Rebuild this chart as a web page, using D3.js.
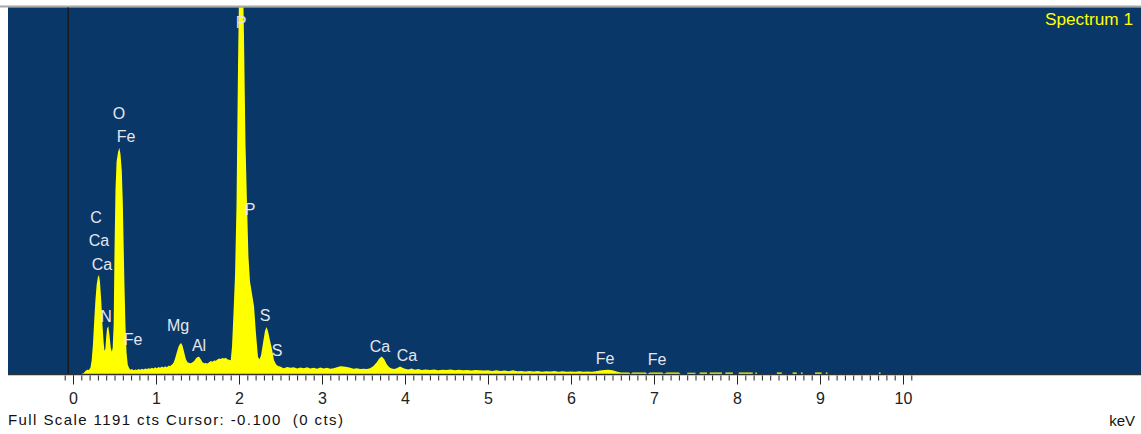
<!DOCTYPE html>
<html><head><meta charset="utf-8">
<script src="https://cdn.jsdelivr.net/npm/d3@7"></script>
<style>
html,body{margin:0;padding:0;background:#fff;}
svg{display:block;}
</style></head>
<body>
<svg id="chart" width="1141" height="434"></svg>
<script>
// ---- data ----
const fullScaleCounts = 1191;
const cursorKeV = -0.1;
const spectrumName = "Spectrum 1";
const axisUnit = "keV";
const majorTickValues = [0,1,2,3,4,5,6,7,8,9,10];
const statusText = "Full Scale 1191 cts Cursor: -0.100  (0 cts)";

// [keV, counts]
const spectrum = [
 [-0.1,0],[0.10,0],[0.13,3],[0.15,10],[0.17,14],[0.19,13],[0.21,20],[0.225,45],[0.24,95],[0.255,170],
 [0.27,240],[0.285,290],[0.30,315],[0.313,322],[0.325,300],[0.34,240],[0.355,160],[0.37,100],[0.38,75],
 [0.39,82],[0.40,120],[0.41,148],[0.425,155],[0.44,125],[0.455,85],[0.468,72],[0.478,85],[0.49,160],
 [0.50,400],[0.512,600],[0.525,690],[0.542,720],[0.558,735],[0.572,715],[0.588,660],[0.60,560],[0.61,420],
 [0.62,290],[0.632,160],[0.645,70],[0.66,30],[0.675,20],
 [0.69,14],[0.71,16],[0.73,12],[0.75,15],[0.77,13],[0.79,16],[0.81,14],[0.83,17],[0.85,15],[0.87,18],
 [0.89,16],[0.91,19],[0.93,17],[0.95,20],[0.97,18],[0.99,22],[1.01,19],[1.03,23],[1.05,20],[1.07,24],
 [1.09,21],[1.11,25],[1.13,22],[1.15,27],[1.17,26],[1.19,30],[1.21,36],[1.23,50],[1.25,70],[1.27,88],
 [1.29,98],[1.305,100],[1.32,92],[1.34,70],[1.36,48],[1.38,38],[1.40,36],[1.42,35],[1.44,38],[1.46,42],
 [1.48,50],[1.50,55],[1.52,56],[1.54,48],[1.56,38],[1.58,35],[1.60,36],[1.62,34],[1.64,38],[1.66,42],
 [1.68,40],[1.70,44],[1.72,43],[1.74,47],[1.76,50],[1.78,49],[1.80,52],[1.82,50],[1.84,53],[1.86,48],
 [1.88,46],[1.90,45],
 [1.916,90],[1.934,200],[1.952,320],[1.970,550],[1.988,1000],[2.006,1350],[2.024,1450],[2.042,1380],
 [2.060,1100],[2.078,750],[2.096,560],[2.114,380],[2.133,300],[2.157,260],[2.181,220],[2.205,130],
 [2.229,55],[2.247,48],[2.265,60],[2.289,100],[2.313,140],[2.331,153],[2.349,140],[2.373,110],[2.398,80],
 [2.422,45],[2.446,32],[2.470,26],[2.494,24],
 [2.54,19],[2.58,23],[2.62,20],[2.66,22],[2.70,18],[2.74,21],[2.78,19],[2.82,22],[2.86,18],[2.90,20],
 [2.94,17],[2.98,21],[3.02,18],[3.06,20],[3.10,17],[3.14,19],[3.18,22],[3.22,25],[3.26,24],[3.30,23],
 [3.34,20],[3.38,17],[3.42,19],[3.46,16],[3.50,17],[3.54,16],[3.58,19],[3.62,26],[3.66,38],[3.69,50],
 [3.72,57],[3.75,48],[3.78,32],[3.81,22],[3.84,18],[3.87,16],[3.90,19],[3.94,24],[3.97,20],[4.00,17],
 [4.04,15],[4.08,18],[4.12,14],[4.16,16],[4.20,13],[4.25,15],[4.30,13],[4.35,15],[4.40,12],[4.45,14],
 [4.50,13],[4.55,15],[4.60,12],[4.65,14],[4.70,12],[4.75,13],[4.80,11],[4.85,13],[4.90,12],[4.95,11],
 [5.00,12],[5.05,10],[5.10,12],[5.15,10],[5.20,11],[5.25,9],[5.30,12],[5.35,9],[5.40,10],[5.45,8],
 [5.50,10],[5.55,8],[5.60,10],[5.65,7],[5.70,9],[5.75,8],[5.80,10],[5.85,7],[5.90,9],[5.95,7],[6.00,8],
 [6.05,7],[6.10,9],[6.15,7],[6.20,8],[6.25,7],[6.30,9],[6.35,11],[6.40,13],[6.45,14],[6.50,12],[6.55,8],
 [6.60,5],[6.70,5],[6.72,0],[6.74,5],[6.90,5],[6.92,0],[6.95,5],[7.10,5],[7.12,0],[7.15,5],[7.30,5],[7.32,0],
 [7.39,0]
];
// sparse high-energy channels: [startKeV, endKeV, counts]
const sparseBlocks = [
 [7.40,7.50,4],[7.55,7.64,5],[7.67,7.82,5],[7.86,7.95,5],[8.02,8.19,5],[8.22,8.24,5],
 [8.48,8.54,5],[8.67,8.72,5],[8.77,8.79,5],[8.94,9.02,5],[9.07,9.09,5],[9.71,9.73,5]
];

// element labels: name, keV, label height (counts)
const labelNames  = ["P","O","Fe","C","Ca","Ca","N","Fe","Mg","Al","P","S","S","Ca","Ca","Fe","Fe"];
const labelKeV    = [2.024,0.554,0.639,0.277,0.313,0.349,0.398,0.723,1.265,1.518,2.133,2.313,2.458,3.699,4.024,6.410,7.036];
const labelCounts = [1143,848,773,508,434,356,188,113,159,94,534,191,78,91,61,52,49];

// ---- drawing ----
const svg = d3.select("#chart");
const plot = {left:8, right:1141, top:7.5, bottom:375};
const x = d3.scaleLinear().domain([0,10]).range([73,903]);
const y = d3.scaleLinear().domain([0,fullScaleCounts]).range([plot.bottom-1, plot.top]);

// top grey border
svg.append("rect").attr("x",0).attr("y",5.5).attr("width",1141).attr("height",2).attr("fill","#a8a8a8");
// plot background
svg.append("rect").attr("x",plot.left).attr("y",plot.top).attr("width",plot.right-plot.left)
  .attr("height",plot.bottom-plot.top).attr("fill","#093768");

svg.append("clipPath").attr("id","clip").append("rect")
  .attr("x",plot.left).attr("y",plot.top).attr("width",plot.right-plot.left).attr("height",plot.bottom-plot.top);

const pts = spectrum.slice();
sparseBlocks.forEach(b => { pts.push([b[0],0],[b[0],b[2]],[b[1],b[2]],[b[1],0]); });

const area = d3.area().x(d=>x(d[0])).y0(y(0)).y1(d=>y(d[1]));
svg.append("path").datum(pts).attr("clip-path","url(#clip)")
  .attr("d",area).attr("fill","#ffff00");

// cursor line
svg.append("line").attr("x1",x(cursorKeV)+3.5).attr("x2",x(cursorKeV)+3.5)
  .attr("y1",plot.top).attr("y2",plot.bottom).attr("stroke","#1a1a1a").attr("stroke-width",1.5);

// bottom dark edge
svg.append("line").attr("x1",plot.left).attr("x2",plot.right).attr("y1",plot.bottom-0.5).attr("y2",plot.bottom-0.5)
  .attr("stroke","#303030").attr("stroke-width",1.5);

// element labels
svg.append("g").attr("clip-path","url(#clip)").selectAll("text").data(labelNames).join("text")
  .attr("x",(d,i)=>x(labelKeV[i])).attr("y",(d,i)=>y(labelCounts[i]))
  .attr("dy","0.36em").attr("text-anchor","middle")
  .attr("font-family","Liberation Sans, Arial, sans-serif").attr("font-size",16)
  .attr("fill","#e4e6ee").text(d=>d);

// spectrum name
svg.append("text").attr("x",1045).attr("y",25).attr("textLength",88).attr("lengthAdjust","spacingAndGlyphs")
  .attr("font-family","Liberation Sans, Arial, sans-serif").attr("font-size",16)
  .attr("fill","#ffff00").text(spectrumName);

// axes
const minorVals = d3.range(-1,102).map(i=>i/10);
const minorAxis = d3.axisBottom(x).tickValues(minorVals).tickSize(5).tickFormat("");
const gMinor = svg.append("g").attr("transform",`translate(0,${plot.bottom+0.5})`).call(minorAxis);
gMinor.select(".domain").remove();
gMinor.selectAll("line").attr("stroke","#222");

const majorAxis = d3.axisBottom(x).tickValues(majorTickValues).tickSize(9).tickPadding(8).tickFormat(d3.format("d"));
const gMajor = svg.append("g").attr("transform",`translate(0,${plot.bottom+0.5})`).call(majorAxis);
gMajor.select(".domain").remove();
gMajor.selectAll("line").attr("stroke","#222");
gMajor.selectAll("text").attr("font-family","Liberation Sans, Arial, sans-serif").attr("font-size",16)
  .attr("fill","#222");

// status text and unit
svg.append("text").attr("x",8).attr("y",425).attr("textLength",335).attr("lengthAdjust","spacing")
  .attr("font-family","Liberation Sans, Arial, sans-serif").attr("font-size",15).attr("fill","#111")
  .attr("xml:space","preserve").style("white-space","pre").text(statusText);
svg.append("text").attr("x",1135).attr("y",426).attr("text-anchor","end")
  .attr("font-family","Liberation Sans, Arial, sans-serif").attr("font-size",15).attr("fill","#111")
  .text(axisUnit);
</script>
</body></html>
